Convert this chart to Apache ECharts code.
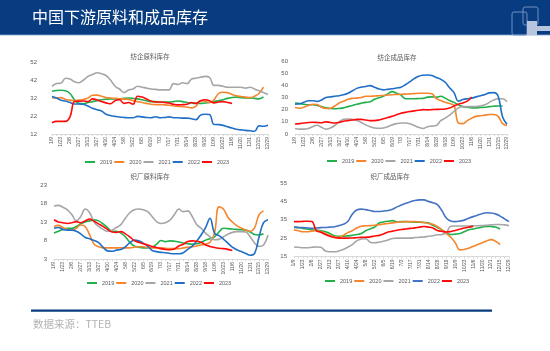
<!DOCTYPE html>
<html>
<head>
<meta charset="utf-8">
<script src="https://cdn.jsdelivr.net/npm/echarts@6/dist/echarts.min.js"></script>
<style>
  html,body{margin:0;padding:0;background:#fff;}
  #main{width:550px;height:351px;}
</style>
</head>
<body>
<div id="main"></div>
<script>
// 周度日期(每隔一个显示)
var dates = ['1/9','1/16','1/23','1/30','2/6','2/20','2/27','3/6','3/13','3/20','3/27','4/3','4/10','4/17','4/24','5/1','5/8','5/15','5/22','5/29','6/5','6/12','6/19','6/26','7/3','7/10','7/17','7/24','7/31','8/7','8/14','8/21','8/28','9/11','9/18','9/25','10/9','10/16','10/23','10/30','11/6','11/13','11/20','11/27','12/1','12/8','12/15','12/22','12/29']
var years = ['2019','2020','2021','2022','2023']

// 纺企原料库存
var fq_yl_2019 = [35.7,36.2,36.3,36,34.5,31,29,28.8,29.5,30,30.5,31,31.3,31.5,31.5,31.5,31.8,32,31.8,31.5,31,30.5,30,30,29.8,29.8,29.8,30,30.3,30,29.5,29.2,29,29,29.2,29.5,30,30.5,31,31.8,32.3,32.5,32.2,32,32,31.8,31.5,32.6,null]
var fq_yl_2020 = [32,32,32.2,31.2,30.8,30.5,30.8,31.2,32,33.5,33.6,33,32.2,32,31.8,31.6,31.4,31.2,30.5,30,29.5,29,28.5,28.3,28.3,28.2,28,27.6,27.3,27.2,27,26.5,27.5,30.5,30.2,29.5,31,34.5,35.2,35,34,33.2,32.8,32.5,32.2,33,34.5,38,null]
var fq_yl_2021 = [38.5,40,40.3,43,42.5,41,40.5,42,44,45,46,45.5,44.5,42,38.5,37,35,36.5,37,38.5,38,37.5,37,36.8,36.5,36.5,36.5,40,39.5,40.5,40,42.5,43,43.5,44,43.5,39,39,38.5,38,38,38,38,37.5,38,37,36,35,34]
var fq_yl_2022 = [32.8,32,30.8,30.3,29.5,28.7,28.7,28.5,27.5,26.3,25.5,24.8,23,22.3,21.8,21.4,21.2,21,21,21.8,21.5,21.2,21,21.6,21,21.2,21.5,21,21,20.8,20.8,20.5,20,22.5,23,22.8,17.3,17.2,16.8,16,15.3,14.6,14.3,14,13.8,13.5,16.5,16.3,16.8]
var fq_yl_2023 = [18.3,19,19,19,21.5,30,30.2,30.3,30,31.5,31,30,29.3,28.8,30.5,31,29,29.5,28.6,33,32.5,31.5,30.3,29.8,29.8,29.5,29.2,28.5,28.2,28.3,28.5,29.5,29,30.5,31,30.5,29.3,29.8,30,29.5,29]

// 纺企成品库存
var fq_cp_2019 = [25.5,25,24.5,24,24,23.5,22.5,21.5,21,20.7,21,21.5,22.5,23.5,24.5,25.3,26,26.5,28.5,29.8,31,33,34.8,33.5,32,29,29,29,29.2,29.3,30.3,30.5,30.2,31,29.5,27.5,26,24,22.5,22,21.5,21.5,21.8,22,22.5,22.8,23,23,null]
var fq_cp_2020 = [21.8,21.2,22,23.5,24.5,24.3,22,21,21.2,23,25.5,27,28.5,29.3,29.5,30,31,31,31.2,31.5,31.7,32,32.3,32.5,32.7,32.8,33,33.2,33.5,33.5,33.5,33,29,27.5,26,25,23.5,9,8.5,11,13,14.5,15,15.5,16,16,14.5,8.5,7]
var fq_cp_2021 = [4.5,4,4,4.5,6,7.2,5.5,4,5,7,10,12,12.3,12,11,9.5,7.5,6,5,4.7,5,6,7.5,8.5,9,9,8.5,7,5.5,4.5,6,6.5,7,11,13,15.5,18.5,21.5,22.5,22.5,22.5,22.5,23,24,26,28,29,29,26.5]
var fq_cp_2022 = [24.5,24.8,26,27.3,27.3,26.8,28,30,30.5,31,31.5,32.2,33.5,35.5,37.5,38.5,39,39.8,38.5,37,36.3,36.7,37.2,37.8,38.5,40.5,43,45.5,47.5,48.3,48.5,48,46.5,45,42.5,38,34,27,28.3,29,29.5,30.5,31.5,32.5,33.8,34,31,14,8]
var fq_cp_2023 = [8.2,8.5,9,9.5,9.7,9.5,9.2,10,9.5,9,9.5,10.5,11,11.5,12,12,11.5,11,11,11.5,12.5,13.5,14.5,15.8,17,17.8,18.5,19,19.5,20,19.8,20,20.2,20.3,20.5,21.3,23,24.5,25.5,27,30.5]

// 织厂原料库存
var zc_yl_2019 = [10,10.5,11,11.3,11.3,11.8,12.5,13,13.3,13.6,13.3,12.5,11.5,10.5,10.5,10,9,7.5,6.5,6.2,6,6,6.2,7,8,7.7,7.9,7.8,7.6,7.3,7.1,7,7.1,7.5,8.1,8.5,9,10.3,11.3,11.2,11.1,11,10.9,10.8,10.3,9.6,9.5,9.8,null]
var zc_yl_2020 = [11.8,12.1,11.5,11,10.8,11.3,12.2,11.8,9.5,7,6.3,6,6,6,6,6,6,6,6.2,6.3,6.3,6.1,6,6,6,5.9,5.8,5.8,5.8,6,6.2,6.3,6.5,6.8,7,7.5,10,17.1,16.5,14.3,13,12,11.4,10.8,10.5,11.5,15,16,null]
var zc_yl_2021 = [17.3,17.5,17,16.3,15,13.3,14.5,16.5,15.5,13,11.8,11,10.5,10.8,11.5,12.3,14,15.5,16.3,16.5,16.3,15.8,14.5,13.1,12.6,12.8,13.5,15,16.5,15.8,16,14.5,12.3,11.3,10,9,8.2,8.3,9,9.7,10.2,10.4,10.4,10.3,9,7.3,6.4,6.8,9.5]
var zc_yl_2022 = [11.3,11.5,11,10.8,10.8,10.5,9.8,8.8,8.5,8,7.4,6.2,5.2,5.1,5.4,5.6,6.3,7.4,8.1,7.9,7.3,6.5,5.3,5,4.8,4.7,4.5,4.4,4.4,4.7,5.6,6.5,7.8,9.5,11.5,14,10,9.3,8.4,7.3,6.2,5.5,5,4.5,4,4.5,9,12.8,13.6]
var zc_yl_2023 = [13.6,13,12.8,12.6,12.8,13.1,12.8,13.3,13.8,13.2,12.5,11.8,11,10.3,10.2,10.4,9.8,9,8,7.5,7.1,6.8,6.4,6.1,5.8,5.6,5.5,5.7,6.5,7,7.7,7.9,7.8,7.5,6.8,6.4,6.1,5.9,5.8,5.6,5.3]

// 织厂成品库存
var zc_cp_2019 = [31,30.7,30.3,30,29.6,29.3,29,28.5,27.5,26.3,26,26,26.2,26.5,27,27.5,29,30,31,33.2,33.8,34.2,34.5,33.8,34,34,33.8,33.7,33.7,33.5,33.3,32,30.8,29.5,28,27,27.2,27.5,28.5,29.5,30,30.5,31,31.4,31.3,31,30,null,null]
var zc_cp_2020 = [29.5,29,28.5,28.5,28.8,29,28.5,27.5,26.5,25.7,25.4,26.5,28,29,30.5,31.5,31.7,31.8,32,32.3,32.7,33,33.3,33.6,33.8,34,34,34,33.8,33.5,33,32.5,31.3,29.5,27.5,25.5,22.5,18.6,18.8,19.5,20.5,21.5,22.5,23.5,24.2,23.3,21.5,null,null]
var zc_cp_2021 = [20.2,20,19.8,19.8,20,20.2,20,18,17.6,17.6,18,18.8,20,21.5,23.5,24.5,24.7,22.8,22.5,22.8,23.3,24,24.8,25,25,25,25,25.3,25.5,25.6,26,26.3,26.8,27,28,31.5,31.6,31.6,31.6,31.6,31.7,31.7,31.8,32,32.2,32.4,32.4,32.2,31.8]
var zc_cp_2022 = [31,30.8,30.7,30.5,30.4,30.5,30.7,30.8,31,31.2,31.8,32.5,34,38,40.3,40.8,40.5,40,39.5,39.5,39.8,40,40.7,42,43,44,44.8,45.5,45.8,45.8,45,44.3,43.2,40,36,34.3,34,34.3,34.8,35.8,36.7,37.5,38.3,38.8,38.7,38.2,37,35.5,34]
var zc_cp_2023 = [34,34,34.1,34.2,34,29,28.2,27,26,25.3,25,25,25,25.1,25.2,25.4,25.5,25.7,26.2,26.5,27.3,28.3,28.8,29.3,29.7,30,30.3,30.6,31,31.3,31,30.5,29.2,28.7,28.3,28.6,29.2,29.8,30.5,31,31.4]

var colors = ['#21b04b','#f5862e','#a6a6a6','#1f6fc6','#ff0a0a']
var colors4 = ['#21b04b','#f5862e','#a6a6a6','#4472c4','#ff0a0a']

var panels = [
  {title:'纺企原料库存', data:[fq_yl_2019,fq_yl_2020,fq_yl_2021,fq_yl_2022,fq_yl_2023], min:12, max:52, interval:10,
    grid:{left:52,top:62,width:216,height:72}, labelMargin:15, titleX:150, titleY:53, legendX:85, legendY:159, col:colors},
  {title:'纺企成品库存', data:[fq_cp_2019,fq_cp_2020,fq_cp_2021,fq_cp_2022,fq_cp_2023], min:0, max:60, interval:10,
    grid:{left:295,top:61,width:212,height:73}, labelMargin:7, titleX:397, titleY:54, legendX:327, legendY:158, col:colors},
  {title:'织厂原料库存', data:[zc_yl_2019,zc_yl_2020,zc_yl_2021,zc_yl_2022,zc_yl_2023], min:3, max:23, interval:5,
    grid:{left:54,top:185,width:214,height:74}, labelMargin:7, titleX:150, titleY:173, legendX:87, legendY:280, col:colors},
  {title:'织厂成品库存', data:[zc_cp_2019,zc_cp_2020,zc_cp_2021,zc_cp_2022,zc_cp_2023], min:15, max:55, interval:10,
    grid:{left:294,top:183,width:215,height:73.5}, labelMargin:7, titleX:390, titleY:173, legendX:325, legendY:278, col:colors4}
]

var chart = echarts.init(document.getElementById('main'))

var grids = [], xAxes = [], yAxes = [], series = [], titles = [], legends = []
panels.forEach(function(p, i){
  grids.push(p.grid)
  titles.push({
    text: p.title, left: p.titleX, top: p.titleY, textAlign: 'center', padding:0,
    textStyle:{fontSize:6.5, fontWeight:'normal', color:'#595959', fontFamily:'Noto Sans CJK SC'}
  })
  xAxes.push({
    type:'category', gridIndex:i, data:dates, boundaryGap:false,
    axisLine:{lineStyle:{color:'#d9d9d9'}},
    axisTick:{show:true, length:2, interval:0, lineStyle:{color:'#d9d9d9'}},
    axisLabel:{interval:1, rotate:90, fontSize:5, color:'#595959', margin:3, fontFamily:'Liberation Sans'}
  })
  yAxes.push({
    type:'value', gridIndex:i, min:p.min, max:p.max, interval:p.interval,
    axisLine:{show:false}, axisTick:{show:false}, splitLine:{show:false},
    axisLabel:{fontSize:6, color:'#595959', margin:p.labelMargin, fontFamily:'Liberation Sans'}
  })
  legends.push({
    left: p.legendX, top: p.legendY, width: 220, padding:0, orient:'horizontal',
    icon:'rect', itemWidth:10, itemHeight:2, itemGap:2,
    textStyle:{fontSize:5.5, color:'#595959', fontFamily:'Liberation Sans'},
    data: years.map(function(y, k){ return {name:y, itemStyle:{color:p.col[k]}} })
  })
  years.forEach(function(y, k){
    series.push({
      name:y, type:'line', xAxisIndex:i, yAxisIndex:i,
      data:p.data[k], smooth:0.4, showSymbol:false, symbol:'none',
      lineStyle:{width:1.6, color:p.col[k]}, itemStyle:{color:p.col[k]},
      z: k===4 ? 5 : 2
    })
  })
})

var option = {
  backgroundColor:'#ffffff',
  animation:false,
  title: titles,
  grid: grids,
  xAxis: xAxes,
  yAxis: yAxes,
  legend: legends,
  series: series,
  graphic:[
    {type:'rect', shape:{x:0,y:0,width:550,height:35}, style:{fill:'#083c80'}},
    {type:'rect', shape:{x:0,y:34,width:550,height:1.2}, style:{fill:'#3a66a6'}},
    {type:'text', left:32, top:9, style:{text:'中国下游原料和成品库存', fill:'#ffffff', fontSize:16, fontFamily:'Noto Sans CJK SC'}},
    // 右上角logo
    {type:'rect', shape:{x:512,y:12,width:15,height:23,r:2}, style:{fill:'none', stroke:'#6f8fbf', lineWidth:1}},
    {type:'rect', shape:{x:523,y:7,width:15,height:18,r:2}, style:{fill:'none', stroke:'#6f8fbf', lineWidth:1}},
    {type:'rect', shape:{x:527,y:21,width:10,height:14}, style:{fill:'#b7c6de'}},
    {type:'rect', shape:{x:537,y:26,width:13,height:5}, style:{fill:'#b7c6de'}},
    // 底部线和来源
    {type:'rect', shape:{x:31,y:309.5,width:461,height:2.3}, style:{fill:'#083c80'}},
    {type:'text', left:33, top:319, style:{text:'数据来源：TTEB', fill:'#b3b3b3', fontSize:10.5, fontFamily:'Noto Sans CJK SC'}}
  ]
}
chart.setOption(option)
</script>
</body>
</html>
